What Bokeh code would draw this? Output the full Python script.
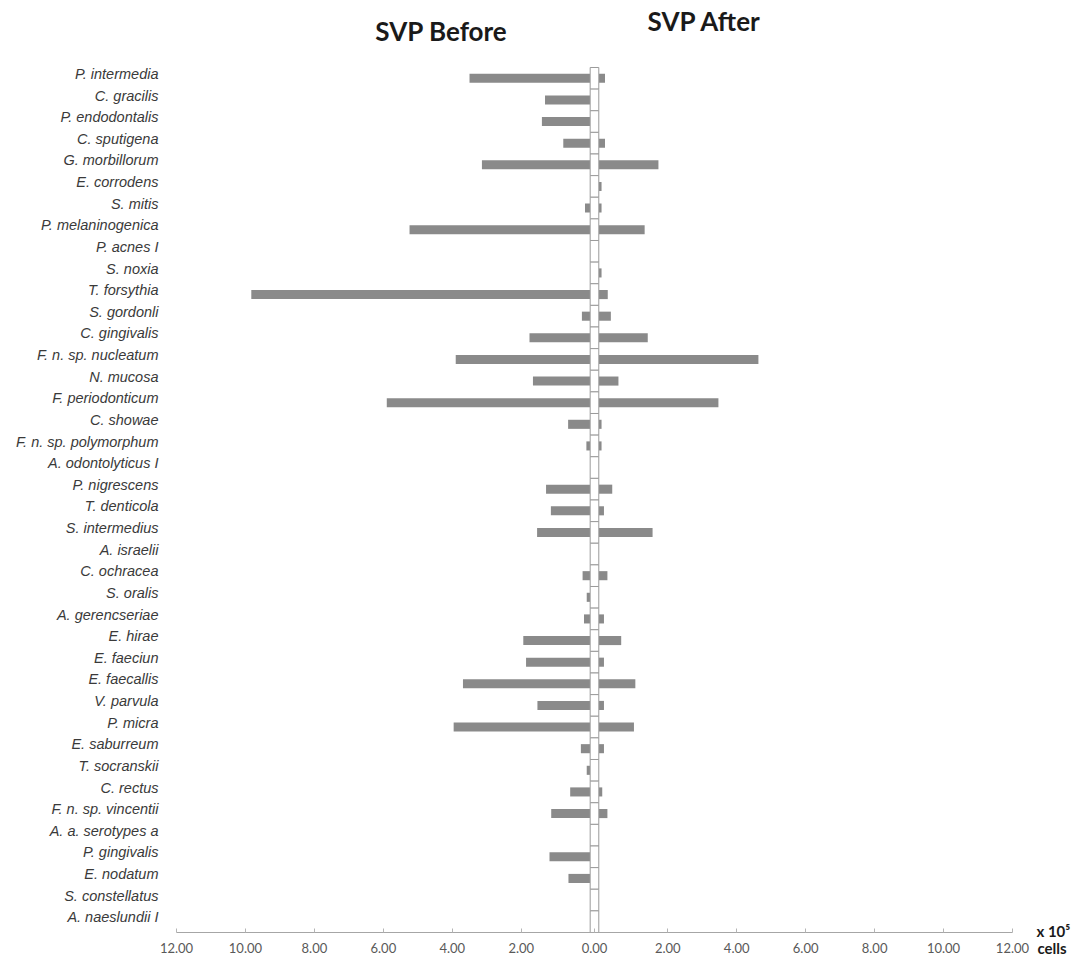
from bokeh.plotting import figure
from bokeh.models import FixedTicker, Label
from bokeh.embed import file_html
from bokeh.resources import INLINE

# ---------------- data ----------------
species = [
    "P. intermedia", "C. gracilis", "P. endodontalis", "C. sputigena", "G. morbillorum",
    "E. corrodens", "S. mitis", "P. melaninogenica", "P. acnes I", "S. noxia",
    "T. forsythia", "S. gordonli", "C. gingivalis", "F. n. sp. nucleatum", "N. mucosa",
    "F. periodonticum", "C. showae", "F. n. sp. polymorphum", "A. odontolyticus I", "P. nigrescens",
    "T. denticola", "S. intermedius", "A. israelii", "C. ochracea", "S. oralis",
    "A. gerencseriae", "E. hirae", "E. faeciun", "E. faecallis", "V. parvula",
    "P. micra", "E. saburreum", "T. socranskii", "C. rectus", "F. n. sp. vincentii",
    "A. a. serotypes a", "P. gingivalis", "E. nodatum", "S. constellatus", "A. naeslundii I",
]
svp_before = [
    3.50, 1.31, 1.40, 0.78, 3.14, 0.00, 0.15, 5.24, 0.00, 0.00,
    9.83, 0.24, 1.76, 3.90, 1.66, 5.90, 0.64, 0.11, 0.00, 1.28,
    1.14, 1.54, 0.00, 0.22, 0.10, 0.18, 1.94, 1.86, 3.69, 1.53,
    3.96, 0.27, 0.10, 0.58, 1.13, 0.00, 1.18, 0.63, 0.00, 0.00,
]
svp_after = [
    0.18, 0.00, 0.00, 0.18, 1.73, 0.08, 0.08, 1.33, 0.00, 0.08,
    0.26, 0.35, 1.42, 4.63, 0.57, 3.47, 0.08, 0.08, 0.00, 0.39,
    0.15, 1.56, 0.00, 0.25, 0.00, 0.15, 0.65, 0.15, 1.06, 0.15,
    1.02, 0.15, 0.00, 0.10, 0.25, 0.00, 0.00, 0.00, 0.00, 0.00,
]
tick_values = [12, 10, 8, 6, 4, 2]          # mirrored axis values (x 10^5 cells)
tick_labels = ["12.00", "10.00", "8.00", "6.00", "4.00", "2.00"]

# ---------------- layout helpers ----------------
G = 0.125          # half width of the central white column (data units)
XMAX = 12.0 + G
n = len(species)
ys = [n - i for i in range(n)]   # first species on top

left_l = [-(G + v) for v in svp_before]
left_r = [-G] * n
right_l = [G] * n
right_r = [G + v for v in svp_after]

p = figure(
    width=1072, height=960,
    x_range=(-17.23, 13.866), y_range=(-0.795, 43.598),
    output_backend="svg", toolbar_location=None,
    min_border_left=0, min_border_right=0, min_border_top=0, min_border_bottom=0,
)
p.outline_line_color = None
p.xgrid.visible = False
p.ygrid.visible = False
p.background_fill_color = "white"
p.border_fill_color = "white"

BAR = "#8a8a8a"
p.hbar(y=ys, left=left_l, right=left_r, height=0.42, fill_color=BAR, line_color=None)
p.hbar(y=ys, left=right_l, right=right_r, height=0.42, fill_color=BAR, line_color=None)
# central white segmented column
p.hbar(y=ys, left=[-G] * n, right=[G] * n, height=1.0,
       fill_color="white", line_color="#9a9a9a", line_width=1)

# ---------------- x axis ----------------
xt = [-(G + t) for t in tick_values] + [0.0] + [G + t for t in reversed(tick_values)]
xl = tick_labels + ["0.00"] + list(reversed(tick_labels))
xa = p.xaxis[0]
xa.fixed_location = 0.5
xa.bounds = (-XMAX, XMAX)
xa.ticker = FixedTicker(ticks=xt)
xa.major_label_overrides = {t: l for t, l in zip(xt, xl)}
xa.axis_line_color = "#a6a6a6"
xa.major_tick_line_color = "#b5b5b5"
xa.major_tick_in = 4
xa.major_tick_out = 0
xa.minor_tick_line_color = None
xa.major_label_standoff = 11
xa.major_label_text_font = "Lato"
xa.major_label_text_font_size = "13px"
xa.major_label_text_color = "#595959"

# ---------------- y axis ----------------
ya = p.yaxis[0]
ya.fixed_location = -XMAX
yt = [y + 0.2 for y in ys]
ya.ticker = FixedTicker(ticks=yt)
ya.major_label_overrides = {t: s for t, s in zip(yt, species)}
ya.axis_line_color = None
ya.major_tick_line_color = None
ya.minor_tick_line_color = None
ya.major_tick_out = 0
ya.major_tick_in = 0
ya.major_label_standoff = 18
ya.major_label_text_font = "Liberation Sans"
ya.major_label_text_font_style = "italic"
ya.major_label_text_font_size = "14.5px"
ya.major_label_text_color = "#3a3a3a"

# ---------------- titles & unit ----------------
for txt, x, y in [("SVP Before", -4.44, 42.21), ("SVP After", 3.19, 42.63)]:
    p.add_layout(Label(x=x, y=y, text=txt, text_align="center", text_baseline="middle",
                       text_font="Lato", text_font_style="bold", text_font_size="26px",
                       text_color="#1a1a1a"))
p.add_layout(Label(x=12.82, y=0.58, text="x 10\u2075", text_align="left", text_baseline="middle",
                   text_font="Lato", text_font_style="bold", text_font_size="15px",
                   text_color="#1a1a1a"))
p.add_layout(Label(x=12.85, y=-0.2, text="cells", text_align="left", text_baseline="middle",
                   text_font="Lato", text_font_style="bold", text_font_size="15px",
                   text_color="#1a1a1a"))

open("out.html", "w").write(file_html(p, INLINE))
